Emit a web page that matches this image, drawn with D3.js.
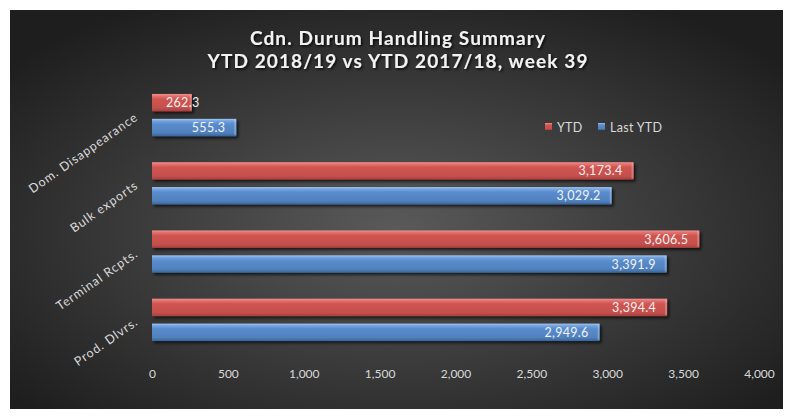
<!DOCTYPE html>
<html>
<head>
<meta charset="utf-8">
<script src="https://cdn.jsdelivr.net/npm/d3@7"></script>
<style>
    body { margin: 0; background: #ffffff; }
    text { font-family: Lato, "Open Sans", sans-serif; }
</style>
</head>
<body>
<svg id="chart" width="802" height="419"></svg>
<script>
// chart data
const categories = ["Dom. Disappearance", "Bulk exports", "Terminal Rcpts.", "Prod. Dlvrs."];
const series = ["YTD", "Last YTD"];
const ytd = [262.3, 3173.4, 3606.5, 3394.4];
const lastYtd = [555.3, 3029.2, 3391.9, 2949.6];
const xTicks = [0, 500, 1000, 1500, 2000, 2500, 3000, 3500, 4000];
const titleLines = ["Cdn. Durum Handling Summary", "YTD 2018/19 vs YTD 2017/18, week 39"];

class DurumChart {
    constructor(container_id) {
        this.svg = d3.select("#" + container_id);
        this.width = 802;
        this.height = 419;
        this.colors = {"YTD": "red", "Last YTD": "blue"};
    }

    defs() {
        let defs = this.svg.append("defs");

        // dark radial background like the excel style
        let bg = defs.append("radialGradient").attr("id", "bg")
            .attr("cx", "50%").attr("cy", "55%").attr("r", "65%");
        bg.append("stop").attr("offset", "0%").attr("stop-color", "#5a5a5a");
        bg.append("stop").attr("offset", "100%").attr("stop-color", "#1e1e1e");

        // bevelled bars
        const grads = {
            red: ["#f49390", "#e3706d", "#d05451", "#c4504d", "#a33f3c"],
            blue: ["#a6caf3", "#73a3e0", "#5a8ccd", "#4f81bd", "#3b6397"]
        };
        Object.entries(grads).forEach(([k, c]) => {
            let g = defs.append("linearGradient").attr("id", "grad_" + k)
                .attr("x1", 0).attr("y1", 0).attr("x2", 0).attr("y2", 1);
            [0, 0.12, 0.3, 0.8, 1].forEach((o, i) => {
                g.append("stop").attr("offset", o).attr("stop-color", c[i]);
            });
        });

        let sh = defs.append("filter").attr("id", "shadow")
            .attr("x", "-10%").attr("y", "-30%").attr("width", "130%").attr("height", "180%");
        sh.append("feDropShadow").attr("dx", 2).attr("dy", 2).attr("stdDeviation", 1.5)
            .attr("flood-color", "#000").attr("flood-opacity", 0.7);

        let tsh = defs.append("filter").attr("id", "tshadow");
        tsh.append("feDropShadow").attr("dx", 1.5).attr("dy", 1.5).attr("stdDeviation", 1)
            .attr("flood-color", "#000").attr("flood-opacity", 0.8);
    }

    render() {
        this.defs();

        this.svg.append("rect")
            .attr("x", 10).attr("y", 10).attr("width", 773).attr("height", 399)
            .attr("fill", "url(#bg)");

        // title
        this.svg.append("g").selectAll("text")
            .data(titleLines).join("text")
            .attr("x", 398)
            .attr("y", (d, i) => 45 + i * 23)
            .attr("text-anchor", "middle")
            .attr("fill", "#f2f2f2")
            .attr("font-size", 19)
            .attr("font-weight", "bold")
            .attr("letter-spacing", 1.1)
            .attr("filter", "url(#tshadow)")
            .text(d => d);

        let x = d3.scaleLinear().domain([0, 4000]).range([152, 759]);
        let y0 = d3.scaleBand().domain(categories).range([81, 354])
            .paddingInner(0.38).paddingOuter(0.19);
        let y1 = d3.scaleBand().domain(series).range([0, y0.bandwidth()]).paddingInner(0.3);

        let rows = categories.map((c, i) => ({
            cat: c,
            vals: [{s: "YTD", v: ytd[i]}, {s: "Last YTD", v: lastYtd[i]}]
        }));

        // x axis labels only, no lines
        let xAxis = this.svg.append("g")
            .attr("transform", "translate(0,366)")
            .call(d3.axisBottom(x).tickValues(xTicks).tickFormat(d3.format(",")).tickSize(0));
        xAxis.select(".domain").remove();
        xAxis.selectAll("text")
            .attr("fill", "#d9d9d9")
            .attr("font-size", 12)
            .style("font-family", "Lato, sans-serif");

        // category labels at -35deg
        this.svg.append("g").selectAll("text")
            .data(categories).join("text")
            .attr("transform", d => `translate(139,${y0(d) + y0.bandwidth() / 2 + 4}) rotate(-35)`)
            .attr("text-anchor", "end")
            .attr("fill", "#d9d9d9")
            .attr("font-size", 12.5)
            .attr("letter-spacing", 0.9)
            .text(d => d);

        let groups = this.svg.append("g").selectAll("g")
            .data(rows).join("g")
            .attr("transform", d => `translate(0,${y0(d.cat)})`);

        groups.selectAll("rect")
            .data(d => d.vals).join("rect")
            .attr("x", x(0))
            .attr("y", d => y1(d.s))
            .attr("width", d => x(d.v) - x(0))
            .attr("height", y1.bandwidth())
            .attr("fill", d => "url(#grad_" + this.colors[d.s] + ")")
            .attr("filter", "url(#shadow)");

        // small highlight on the bar end
        groups.selectAll("line.end")
            .data(d => d.vals).join("line")
            .attr("class", "end")
            .attr("x1", d => x(d.v) - 1).attr("x2", d => x(d.v) - 1)
            .attr("y1", d => y1(d.s) + 1).attr("y2", d => y1(d.s) + y1.bandwidth() - 1)
            .attr("stroke", "#ffffff").attr("stroke-opacity", 0.25).attr("stroke-width", 2);

        let fmt = d3.format(",.1f");
        groups.selectAll("text.val")
            .data(d => d.vals).join("text")
            .attr("class", "val")
            .attr("y", d => y1(d.s) + y1.bandwidth() / 2 + 4.5)
            .attr("text-anchor", "end")
            .attr("fill", "#f2f2f2")
            .attr("font-size", 12.5)
            .attr("letter-spacing", 0.3)
            .text(d => fmt(d.v))
            .attr("x", function(d) {
                let w = this.getComputedTextLength();
                return Math.max(x(d.v) - 11, x(0) + 14 + w);
            });

        // legend
        let legend = this.svg.append("g").attr("transform", "translate(548,127)");
        let lx = [0, 53];
        series.forEach((s, i) => {
            legend.append("rect")
                .attr("x", lx[i] - 3).attr("y", -4).attr("width", 7).attr("height", 7)
                .attr("fill", "url(#grad_" + this.colors[s] + ")");
            legend.append("text")
                .attr("x", lx[i] + 9).attr("y", 4.5)
                .attr("fill", "#d9d9d9")
                .attr("font-size", 12.5)
                .attr("letter-spacing", 0.3)
                .text(s);
        });
    }
}

let chart = new DurumChart("chart");
chart.render();
</script>
</body>
</html>
